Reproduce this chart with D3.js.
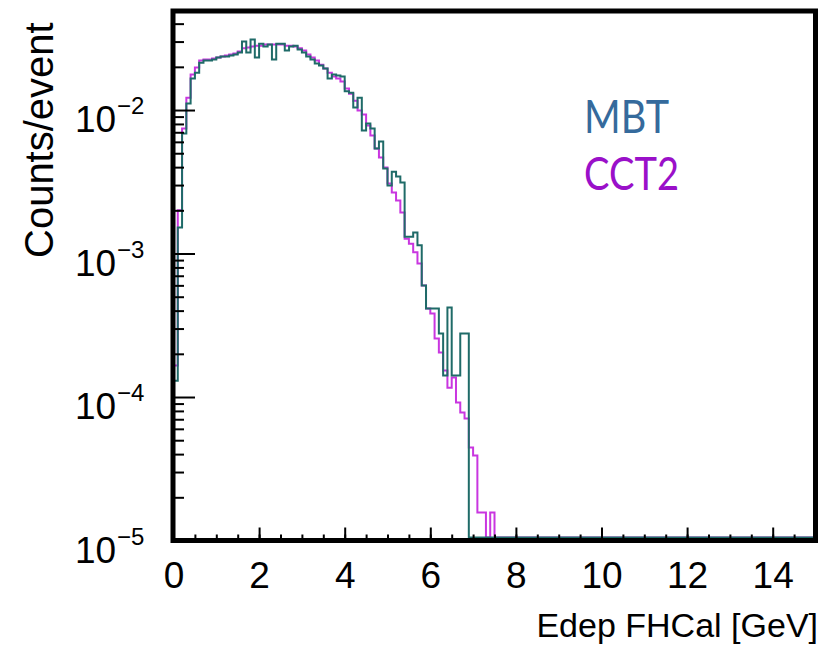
<!DOCTYPE html>
<html>
<head>
<meta charset="utf-8">
<script src="https://cdn.jsdelivr.net/npm/d3@7"></script>
<style>
  body { margin: 0; background: #fff; }
  svg { display: block; }
  .tick text { font-family: "Liberation Sans", Arial, sans-serif; }
</style>
</head>
<body>
<svg id="chart" width="822" height="647"></svg>
<script>
// histogram contents, 0.1 GeV bins starting at 0 (bins after the list are empty)
var binWidth = 0.1;
var mbt = [1.3e-4, 0.00152, 0.00685, 0.0111, 0.0166, 0.0182, 0.0214, 0.0221, 0.0221, 0.0225,
  0.0232, 0.0236, 0.0236, 0.0240, 0.0244, 0.0252, 0.0300, 0.0252, 0.0310, 0.0232,
  0.0290, 0.0277, 0.0286, 0.0225, 0.0290, 0.0290, 0.0260, 0.0277, 0.0281, 0.0264,
  0.0252, 0.0236, 0.0225, 0.0211, 0.0204, 0.0195, 0.0166, 0.0177, 0.0174, 0.0171,
  0.0135, 0.0132, 0.0104, 0.0122, 0.00719, 0.00805, 0.00743, 0.00540, 0.00603, 0.00391,
  0.00298, 0.00372, 0.00344, 0.00313, 0.00131, 0.00131, 0.00140, 0.00114, 0.000598, 0.000414,
  0.000414, 0.000414, 0.000277, 0.000141, 0.000421, 0.000141, 0.000141, 0.000277, 0.000277];
var cct2 = [1.66e-4, 0.00200, 0.00743, 0.0122, 0.0177, 0.0198, 0.0221, 0.0225, 0.0225, 0.0229,
  0.0232, 0.0236, 0.0240, 0.0244, 0.0248, 0.0256, 0.0269, 0.0273, 0.0277, 0.0281,
  0.0281, 0.0286, 0.0286, 0.0286, 0.0286, 0.0286, 0.0281, 0.0281, 0.0277, 0.0269,
  0.0260, 0.0244, 0.0232, 0.0221, 0.0207, 0.0195, 0.0182, 0.0171, 0.0166, 0.0158,
  0.0141, 0.0130, 0.0116, 0.00993, 0.00931, 0.00780, 0.00664, 0.00540, 0.00467, 0.00397,
  0.00308, 0.00266, 0.00234, 0.00193, 0.00127, 0.00117, 0.00102, 0.000851, 0.000598, 0.000414,
  0.000382, 0.000256, 0.000204, 0.000153, 0.000116, 0.000137, 9.17e-5, 7.80e-5, 7.08e-5, 4.45e-5,
  3.91e-5, 1.57e-5, 1.57e-5, 0, 1.57e-5];

var xMajor = [0, 2, 4, 6, 8, 10, 12, 14];
var yDecades = [1e-5, 1e-4, 1e-3, 1e-2];
var yExponents = ["\u22125", "\u22124", "\u22123", "\u22122"];
var legendNames = ["MBT", "CCT2"];
var legendColors = ["#356a9c", "#9a10c9"];
var lineColors = ["#1f6b68", "#c936e0"];

var svg = d3.select("#chart");
var x = d3.scaleLinear().domain([0, 15]).range([173.5, 815.5]);
var y = d3.scaleLog().domain([1e-5, 0.049]).range([540.5, 11]);
var floorY = 537.5;

function yPos(v) {
  if (!(v > 0)) return floorY;
  return Math.min(y(v), floorY);
}

function histPoints(values) {
  var pts = [[0, 0]];
  values.forEach(function(v, i) {
    pts.push([i * binWidth, v]);
  });
  pts.push([values.length * binWidth, 0]);
  pts.push([15, 0]);
  return pts;
}

var line = d3.line()
  .x(function(d) { return x(d[0]); })
  .y(function(d) { return yPos(d[1]); })
  .curve(d3.curveStepAfter);

[cct2, mbt].forEach(function(values, i) {
  svg.append("path")
    .attr("d", line(histPoints(values)))
    .attr("fill", "none")
    .attr("stroke", i === 0 ? lineColors[1] : lineColors[0])
    .attr("stroke-width", 2);
});

// x axis ticks
var xMinor = d3.range(0, 15, 0.5);
svg.append("g")
  .attr("transform", "translate(0,540.5)")
  .call(d3.axisBottom(x).tickValues(xMinor).tickSize(-6).tickFormat(""))
  .call(function(g) { g.select(".domain").remove(); })
  .selectAll("line").attr("stroke", "#000").attr("stroke-width", 2);

svg.append("g")
  .attr("transform", "translate(0,540.5)")
  .call(d3.axisBottom(x).tickValues(xMajor).tickSize(-13).tickPadding(21).tickFormat(d3.format("d")))
  .call(function(g) {
    g.select(".domain").remove();
    g.selectAll("line").attr("stroke", "#000").attr("stroke-width", 2);
    g.selectAll("text").attr("font-size", 37).attr("fill", "#000");
  });

// y axis ticks
var yMinor = [];
yDecades.forEach(function(d) {
  [2, 3, 4, 5, 6, 7, 8, 9].forEach(function(m) {
    if (d * m < 0.049) yMinor.push(d * m);
  });
});
svg.append("g")
  .attr("transform", "translate(173,0)")
  .call(d3.axisLeft(y).tickValues(yMinor).tickSize(-11).tickFormat(""))
  .call(function(g) { g.select(".domain").remove(); })
  .selectAll("line").attr("stroke", "#000").attr("stroke-width", 2);
svg.append("g")
  .attr("transform", "translate(173,0)")
  .call(d3.axisLeft(y).tickValues(yDecades).tickSize(-22).tickFormat(""))
  .call(function(g) { g.select(".domain").remove(); })
  .selectAll("line").attr("stroke", "#000").attr("stroke-width", 2);

var ylab = svg.append("g")
  .attr("font-family", "Liberation Sans, Arial, sans-serif")
  .attr("fill", "#000");
yDecades.forEach(function(d, i) {
  ylab.append("text")
    .attr("x", 75).attr("y", y(d) + 22)
    .attr("font-size", 37)
    .text("10");
  ylab.append("text")
    .attr("x", 117).attr("y", y(d) + 4)
    .attr("font-size", 24)
    .text(yExponents[i]);
});

// frame
svg.append("rect")
  .attr("x", 173).attr("y", 11)
  .attr("width", 642.5).attr("height", 529.5)
  .attr("fill", "none")
  .attr("stroke", "#000")
  .attr("stroke-width", 5);

// axis titles
svg.append("text")
  .attr("transform", "translate(53,258) rotate(-90)")
  .attr("font-family", "Liberation Sans, Arial, sans-serif")
  .attr("font-size", 40)
  .attr("fill", "#000")
  .text("Counts/event");

svg.append("text")
  .attr("x", 818).attr("y", 637)
  .attr("text-anchor", "end")
  .attr("font-family", "Liberation Sans, Arial, sans-serif")
  .attr("font-size", 34)
  .attr("fill", "#000")
  .text("Edep FHCal [GeV]");

// legend
var legendWidths = [85, 95];
legendNames.forEach(function(name, i) {
  svg.append("text")
    .attr("x", 584).attr("y", 133 + i * 57)
    .attr("font-family", "Lato, sans-serif")
    .attr("font-size", 46)
    .attr("textLength", legendWidths[i])
    .attr("lengthAdjust", "spacingAndGlyphs")
    .attr("fill", legendColors[i])
    .text(name);
});
</script>
</body>
</html>
